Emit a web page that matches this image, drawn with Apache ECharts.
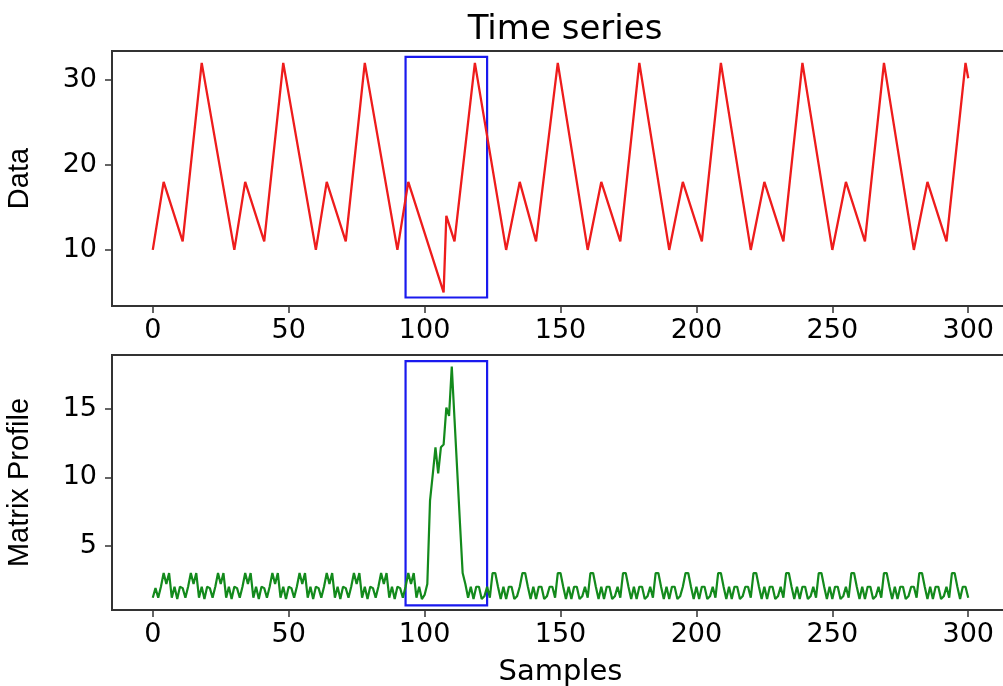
<!DOCTYPE html>
<html>
<head>
<meta charset="utf-8">
<title>Time series and matrix profile</title>
<script src="https://cdn.jsdelivr.net/npm/echarts@6/dist/echarts.min.js"></script>
<style>
  html, body { margin: 0; padding: 0; background: #fff; }
  #chart { width: 1003px; height: 686px; }
</style>
</head>
<body>
<div id="chart"></div>
<script>
// Time series vertices (sample index, value)
const seriesX = [0, 4, 11, 18, 30, 34, 41, 48, 60, 64, 71, 78, 90, 94,
  107, 108, 111, 118.5,
  130, 135, 141, 149, 160, 165, 172, 179, 190, 195, 202, 209,
  220, 225, 232, 239, 250, 255, 262, 269, 280, 285, 292, 299, 300];
const seriesY = [10, 18, 11, 32, 10, 18, 11, 32, 10, 18, 11, 32, 10, 18,
  5, 14, 11, 32,
  10, 18, 11, 32, 10, 18, 11, 32, 10, 18, 11, 32,
  10, 18, 11, 32, 10, 18, 11, 32, 10, 18, 11, 32, 30.2];

// Matrix profile, one value per sample 0..300
const profile = [
  1.2, 1.9, 1.2, 2, 3, 2.2, 3, 1.2, 2, 1.1,
  2, 1.9, 1.2, 2, 3, 2.2, 3, 1.2, 2, 1.1,
  2, 1.9, 1.2, 2, 3, 2.2, 3, 1.2, 2, 1.1,
  2, 1.9, 1.2, 2, 3, 2.2, 3, 1.2, 2, 1.1,
  2, 1.9, 1.2, 2, 3, 2.2, 3, 1.2, 2, 1.1,
  2, 1.9, 1.2, 2, 3, 2.2, 3, 1.2, 2, 1.1,
  2, 1.9, 1.2, 2, 3, 2.2, 3, 1.2, 2, 1.1,
  2, 1.9, 1.2, 2, 3, 2.2, 3, 1.2, 2, 1.1,
  2, 1.9, 1.2, 2, 3, 2.2, 3, 1.2, 2, 1.1,
  2, 1.9, 1.2, 2, 3, 2.2, 3, 1.2, 2, 1.1,
  1.4, 2.2, 8.3, 10.2, 12.2, 10.3, 12.2, 12.4, 15.1, 14.5,
  18.1, 14.3, 10.5, 6.7, 3.0, 2.2, 1.2, 2, 1.1, 2,
  2, 1.1, 1.3, 2, 1.2,
  3, 3, 2, 1.1, 2, 1.1, 2, 2, 1.1, 1.3, 2,
  3, 3, 2, 1.1, 2, 1.1, 2, 2, 1.1, 1.3, 2, 2, 1.2,
  3, 3, 2, 1.1, 2, 1.1, 2, 2, 1.1, 1.3, 2, 1.2,
  3, 3, 2, 1.1, 2, 1.1, 2, 2, 1.1, 1.3, 2, 1.2,
  3, 3, 2, 1.1, 2, 1.1, 2, 2, 1.1, 1.3, 2, 1.2,
  3, 3, 2, 1.1, 2, 1.1, 2, 2, 1.1, 1.3, 2,
  3, 3, 2, 1.1, 2, 1.1, 2, 2, 1.1, 1.3, 2, 1.2,
  3, 3, 2, 1.1, 2, 1.1, 2, 2, 1.1, 1.3, 2, 2, 1.2,
  3, 3, 2, 1.1, 2, 1.1, 2, 2, 1.1, 1.3, 2, 1.2,
  3, 3, 2, 1.1, 2, 1.1, 2, 2, 1.1, 1.3, 2, 1.2,
  3, 3, 2, 1.1, 2, 1.1, 2, 2, 1.1, 1.3, 2, 1.2,
  3, 3, 2, 1.1, 2, 1.1, 2, 2, 1.1, 1.3, 2, 1.2,
  3, 3, 2, 1.1, 2, 1.1, 2, 2, 1.1, 1.3, 2, 2, 1.2,
  3, 3, 2, 1.1, 2, 1.1, 2, 2, 1.1, 1.3, 2, 1.2,
  3, 3, 2, 1.1, 2, 2, 1.2
];

// Tick labels
const sampleTicks = [0, 50, 100, 150, 200, 250, 300];
const dataTicks = [10, 20, 30];
const profileTicks = [5, 10, 15];

// Highlighted discord window (samples) and box heights in each panel
const discordWindow = [93, 123];
const dataBox = [4.4, 32.7];
const profileBox = [0.64, 18.5];

const seriesPairs = seriesX.map((x, i) => [x, seriesY[i]]);
const profilePairs = profile.map((v, i) => [i, v]);

const FONT = 'DejaVu Sans';
const NARROW = 'Liberation Sans Narrow, Liberation Sans';
const frameColor = '#333';

function xAxisFor(gridIndex, name) {
  return {
    type: 'value', gridIndex, min: -15, max: 315,
    name: name || '', nameLocation: 'middle', nameGap: 48,
    nameTextStyle: { fontFamily: FONT, fontSize: 29, color: '#000' },
    axisLine: { show: true, onZero: false, lineStyle: { color: frameColor, width: 2 } },
    axisTick: { show: true, customValues: sampleTicks, length: 7, lineStyle: { color: frameColor, width: 1.5 } },
    axisLabel: { customValues: sampleTicks, margin: 11, fontFamily: FONT, fontSize: 27, color: '#000' },
    splitLine: { show: false }
  };
}

function yAxisFor(gridIndex, min, max, ticks, name) {
  return {
    type: 'value', gridIndex, min, max,
    name, nameLocation: 'middle', nameRotate: 90, nameGap: 78,
    nameTextStyle: { fontFamily: NARROW, fontSize: 29, color: '#000' },
    axisLine: { show: true, onZero: false, lineStyle: { color: frameColor, width: 2 } },
    axisTick: { show: true, customValues: ticks, length: 7, lineStyle: { color: frameColor, width: 1.5 } },
    axisLabel: { customValues: ticks, margin: 15, fontFamily: FONT, fontSize: 27, color: '#000' },
    splitLine: { show: false }
  };
}

function box(lo, hi) {
  return {
    silent: true,
    label: { show: false },
    itemStyle: { color: 'rgba(0,0,0,0)', borderColor: '#1a1aee', borderWidth: 2.2 },
    data: [[{ xAxis: discordWindow[0], yAxis: lo }, { xAxis: discordWindow[1], yAxis: hi }]]
  };
}

const chart = echarts.init(document.getElementById('chart'), null, { renderer: 'canvas' });
chart.setOption({
  animation: false,
  backgroundColor: '#fff',
  title: {
    text: 'Time series', left: 560, top: 8, textAlign: 'center',
    textStyle: { fontFamily: FONT, fontSize: 34, fontWeight: 'normal', color: '#000' }
  },
  grid: [
    { left: 112, top: 51, width: 897, height: 255, show: true, borderColor: frameColor, borderWidth: 2, outerBoundsMode: 'none', containLabel: false },
    { left: 112, top: 355, width: 897, height: 255, show: true, borderColor: frameColor, borderWidth: 2, outerBoundsMode: 'none', containLabel: false }
  ],
  xAxis: [xAxisFor(0), xAxisFor(1, 'Samples')],
  yAxis: [
    yAxisFor(0, 3.4, 33.4, dataTicks, 'Data'),
    yAxisFor(1, 0.3, 18.95, profileTicks, 'Matrix Profile')
  ],
  series: [
    {
      name: 'Data', type: 'line', xAxisIndex: 0, yAxisIndex: 0,
      data: seriesPairs, showSymbol: false, symbol: 'none',
      lineStyle: { color: '#ee1c1c', width: 2.3 },
      markArea: box(dataBox[0], dataBox[1])
    },
    {
      name: 'Matrix Profile', type: 'line', xAxisIndex: 1, yAxisIndex: 1,
      data: profilePairs, showSymbol: false, symbol: 'none',
      lineStyle: { color: '#138a1c', width: 2.2 },
      markArea: box(profileBox[0], profileBox[1])
    }
  ]
});
</script>
</body>
</html>
